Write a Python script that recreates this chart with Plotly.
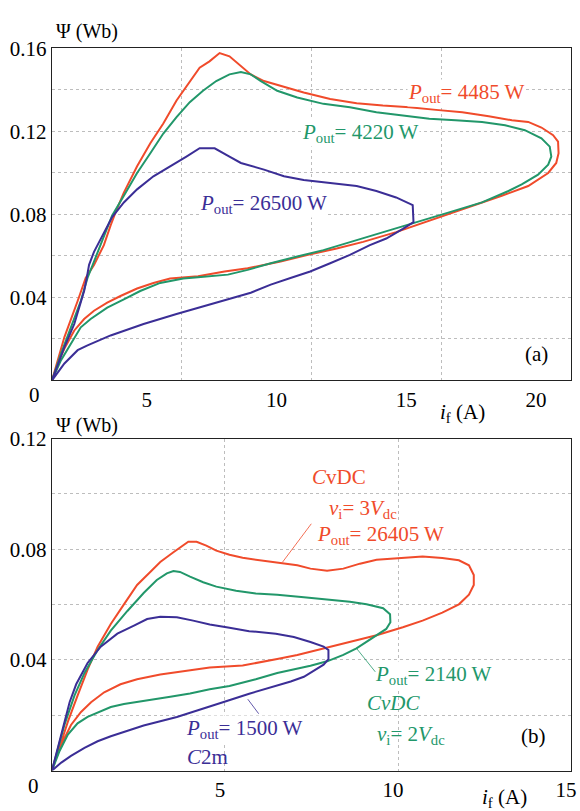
import plotly.graph_objects as go

# ---------------- data : panel (a) ----------------
a_red_x = [0, 0.48, 0.99, 1.30, 1.62, 2.00, 2.26, 2.45, 2.77, 3.28, 3.79, 4.29, 4.80, 5.31, 5.69, 6.07, 6.46, 6.84, 7.28, 7.66,
           8.17, 8.81, 9.70, 10.72, 11.74, 12.75, 13.77, 14.80, 15.81, 16.83, 17.72, 18.35, 18.86, 19.31, 19.50, 19.52, 19.43, 19.12, 18.35, 17.33,
           15.81, 14.54, 13.26, 11.99, 10.97, 9.83, 8.81, 7.54, 6.65, 5.63, 5.06, 4.55, 3.91, 3.28, 2.64, 2.13, 1.62, 1.24, 0.86, 0.48, 0.22, 0]
a_red_y = [0, 0.0209, 0.0383, 0.0494, 0.0557, 0.0652, 0.0747, 0.0810, 0.0905, 0.1032, 0.1143, 0.1238, 0.1349, 0.1443, 0.1507, 0.1538, 0.1578, 0.1562, 0.1515, 0.1475,
           0.1443, 0.1420, 0.1388, 0.1356, 0.1336, 0.1325, 0.1317, 0.1304, 0.1293, 0.1273, 0.1254, 0.1246, 0.1219, 0.1182, 0.1151, 0.1095, 0.1048, 0.1000, 0.0937, 0.0890,
           0.0826, 0.0771, 0.0715, 0.0668, 0.0636, 0.0605, 0.0573, 0.0541, 0.0525, 0.0502, 0.0497, 0.0491, 0.0470, 0.0443, 0.0407, 0.0375, 0.0336, 0.0296, 0.0241, 0.0154, 0.0082, 0]

a_green_x = [0, 0.35, 0.73, 1.11, 1.37, 1.88, 2.32, 2.77, 3.28, 3.79, 4.29, 4.80, 5.31, 5.82, 6.33, 6.84, 7.28, 7.66, 8.05, 8.68,
             9.45, 10.46, 11.48, 12.50, 13.52, 14.54, 15.55, 16.57, 17.46, 18.22, 18.86, 19.18, 19.24, 19.12, 18.73, 18.10, 17.59, 16.57, 15.30, 14.03,
             12.75, 11.48, 10.46, 9.45, 8.43, 7.54, 6.78, 5.63, 5.06, 4.17, 3.40, 2.77, 2.13, 1.49, 1.11, 0.73, 0.35, 0]
a_green_y = [0, 0.0130, 0.0256, 0.0383, 0.0494, 0.0652, 0.0795, 0.0890, 0.1000, 0.1095, 0.1190, 0.1269, 0.1341, 0.1396, 0.1443, 0.1475, 0.1486, 0.1475, 0.1443, 0.1396,
             0.1364, 0.1333, 0.1317, 0.1293, 0.1277, 0.1261, 0.1254, 0.1246, 0.1230, 0.1206, 0.1167, 0.1127, 0.1079, 0.1040, 0.0992, 0.0945, 0.0913, 0.0858, 0.0810, 0.0763,
             0.0715, 0.0668, 0.0628, 0.0597, 0.0565, 0.0533, 0.0510, 0.0497, 0.0491, 0.0470, 0.0431, 0.0391, 0.0351, 0.0296, 0.0256, 0.0177, 0.0098, 0]

a_blue_x = [0, 0.48, 0.86, 1.11, 1.24, 1.34, 1.43, 1.62, 1.94, 2.32, 2.77, 3.28, 3.91, 4.68, 5.18, 5.69, 6.27, 6.84, 7.28, 8.17,
            8.94, 9.70, 10.72, 11.74, 12.50, 13.26, 13.90, 13.93, 13.52, 12.88, 12.25, 11.48, 10.72, 9.95, 9.19, 8.43, 7.66, 6.90, 6.14, 4.80,
            3.53, 2.26, 1.37, 0.99, 0.48, 0]
a_blue_y = [0, 0.0161, 0.0272, 0.0383, 0.0431, 0.0494, 0.0557, 0.0620, 0.0700, 0.0787, 0.0858, 0.0921, 0.0984, 0.1040, 0.1079, 0.1119, 0.1119, 0.1079, 0.1048, 0.1016,
            0.0984, 0.0966, 0.0950, 0.0937, 0.0913, 0.0882, 0.0845, 0.0763, 0.0731, 0.0684, 0.0652, 0.0605, 0.0565, 0.0525, 0.0494, 0.0462, 0.0423, 0.0396, 0.0367, 0.0320,
            0.0272, 0.0217, 0.0169, 0.0146, 0.0082, 0]

# ---------------- data : panel (b) ----------------
b_red_x = [0, 0.22, 0.46, 0.74, 1.03, 1.32, 1.70, 2.08, 2.46, 2.84, 3.13, 3.51, 3.80, 3.94, 4.18, 4.46, 4.75, 5.13, 5.51, 5.99,
           6.51, 7.09, 7.47, 7.95, 8.42, 8.90, 9.38, 10.05, 10.71, 11.28, 11.76, 12.05, 12.19, 12.19, 12.05, 11.76, 11.28, 10.71, 10.14, 9.38,
           8.80, 8.23, 7.66, 7.09, 6.51, 5.51, 4.56, 3.80, 3.13, 2.46, 1.98, 1.51, 1.13, 0.84, 0.55, 0.32, 0.12, 0]
b_red_y = [0, 0.0082, 0.0177, 0.0271, 0.0365, 0.0448, 0.0530, 0.0601, 0.0671, 0.0718, 0.0754, 0.0789, 0.0813, 0.0827, 0.0827, 0.0813, 0.0795, 0.0780, 0.0769, 0.0760,
           0.0752, 0.0742, 0.0730, 0.0722, 0.0730, 0.0748, 0.0762, 0.0769, 0.0774, 0.0768, 0.0760, 0.0742, 0.0707, 0.0671, 0.0636, 0.0601, 0.0571, 0.0542, 0.0518, 0.0489,
           0.0471, 0.0453, 0.0436, 0.0418, 0.0403, 0.0380, 0.0373, 0.0359, 0.0347, 0.0330, 0.0312, 0.0283, 0.0247, 0.0212, 0.0165, 0.0106, 0.0047, 0]

b_green_x = [0, 0.17, 0.36, 0.65, 0.94, 1.32, 1.70, 2.18, 2.65, 3.03, 3.32, 3.51, 3.70, 3.99, 4.37, 4.75, 5.32, 5.89, 6.51, 7.28,
             8.04, 8.61, 9.09, 9.57, 9.77, 9.78, 9.66, 9.38, 9.09, 8.80, 8.42, 7.95, 7.47, 6.90, 6.51, 5.89, 5.13, 4.56, 3.99, 3.42,
             2.65, 2.08, 1.70, 1.41, 1.03, 0.74, 0.46, 0.22, 0]
b_green_y = [0, 0.0082, 0.0165, 0.0271, 0.0353, 0.0436, 0.0506, 0.0577, 0.0642, 0.0689, 0.0713, 0.0721, 0.0718, 0.0701, 0.0681, 0.0665, 0.0650, 0.0640, 0.0636, 0.0627,
             0.0618, 0.0610, 0.0601, 0.0587, 0.0565, 0.0536, 0.0512, 0.0489, 0.0465, 0.0442, 0.0418, 0.0395, 0.0379, 0.0365, 0.0353, 0.0330, 0.0306, 0.0294, 0.0279, 0.0267,
             0.0251, 0.0241, 0.0230, 0.0214, 0.0194, 0.0171, 0.0130, 0.0071, 0]

b_blue_x = [0, 0.12, 0.32, 0.51, 0.70, 1.03, 1.41, 1.89, 2.37, 2.75, 3.13, 3.61, 4.08, 4.56, 5.13, 5.70, 6.47, 6.99, 7.47, 7.85,
            7.99, 7.99, 7.85, 7.56, 7.28, 6.90, 6.09, 5.70, 4.94, 4.18, 3.61, 2.65, 2.18, 1.70, 1.32, 0.94, 0.55, 0.27, 0]
b_blue_y = [0, 0.0059, 0.0153, 0.0247, 0.0312, 0.0389, 0.0448, 0.0495, 0.0524, 0.0548, 0.0556, 0.0554, 0.0542, 0.0528, 0.0516, 0.0504, 0.0495, 0.0483, 0.0465, 0.0448,
            0.0436, 0.0403, 0.0383, 0.0359, 0.0339, 0.0322, 0.0292, 0.0278, 0.0247, 0.0218, 0.0194, 0.0163, 0.0144, 0.0124, 0.0106, 0.0082, 0.0053, 0.0029, 0]

# tick labels
a_xticks = [5, 10, 15, 20]
a_yticks = [0.02, 0.04, 0.06, 0.08, 0.10, 0.12, 0.14, 0.16]
a_yticktext = ["", "0.04", "", "0.08", "", "0.12", "", "0.16"]
b_xticks = [5, 10, 15]
b_yticks = [0.02, 0.04, 0.06, 0.08, 0.10, 0.12]
b_yticktext = ["", "0.04", "", "0.08", "", "0.12"]

# ---------------- styling ----------------
RED = "#F04B2B"
GREEN = "#22976A"
BLUE = "#3B2E96"
FONT = "Liberation Serif"
FS = 21
W, H = 580, 811


def px(x):
    return x / W


def py(y):
    return 1 - y / H


fig = go.Figure()
for xs, ys, c in [(a_red_x, a_red_y, RED), (a_green_x, a_green_y, GREEN), (a_blue_x, a_blue_y, BLUE)]:
    fig.add_trace(go.Scatter(x=xs, y=ys, mode="lines", line=dict(color=c, width=2), xaxis="x", yaxis="y",
                             showlegend=False, hoverinfo="skip"))
for xs, ys, c in [(b_red_x, b_red_y, RED), (b_green_x, b_green_y, GREEN), (b_blue_x, b_blue_y, BLUE)]:
    fig.add_trace(go.Scatter(x=xs, y=ys, mode="lines", line=dict(color=c, width=2), xaxis="x2", yaxis="y2",
                             showlegend=False, hoverinfo="skip"))

grid = dict(showgrid=True, gridcolor="#bdbdbd", griddash="dot", gridwidth=1,
            showline=True, linecolor="#222", linewidth=1.3, mirror=True, ticks="",
            zeroline=False, tickfont=dict(family=FONT, size=FS, color="black"))

fig.update_layout(
    width=W, height=H, autosize=False,
    margin=dict(l=0, r=0, t=0, b=0),
    paper_bgcolor="white", plot_bgcolor="white",
    font=dict(family=FONT, size=FS, color="black"),
    xaxis=dict(domain=[px(52.5), px(577)], range=[0, 20], tickmode="array", tickvals=a_xticks,
               ticklabelshift=-35, anchor="y", **grid),
    yaxis=dict(domain=[py(374), py(37)], range=[0, 0.16], tickmode="array", tickvals=a_yticks,
               ticktext=a_yticktext, anchor="x", **grid),
    xaxis2=dict(domain=[px(52.5), px(577)], range=[0, 15], tickmode="array", tickvals=b_xticks,
                ticklabelshift=-5, ticklabeloverflow="allow", anchor="y2", **grid),
    yaxis2=dict(domain=[py(770), py(433)], range=[0, 0.12], tickmode="array", tickvals=b_yticks,
                ticktext=b_yticktext, anchor="x2", **grid),
)

ann = []


def label(text, x, y, color="black", bg=None, xanchor="center", size=FS):
    d = dict(text=text, x=px(x), y=py(y), xref="paper", yref="paper", showarrow=False,
             font=dict(family=FONT, size=size, color=color), xanchor=xanchor, yanchor="middle")
    if bg:
        d.update(bgcolor=bg, borderpad=0)
    ann.append(d)


P = "<i>P</i><sub>out</sub>"
# axis titles and corner zeros
label("Ψ (Wb)", 88, 20, size=20)
label("Ψ (Wb)", 88, 420, size=20)
label("0", 35, 389)
label("0", 34, 786)
label("<i>i</i><sub>f</sub> (A)", 467, 407)
label("<i>i</i><sub>f</sub> (A)", 510, 798)
label("(a)", 542, 347)
label("(b)", 539, 735)

# panel (a) labels
label(P + "= 4485 W", 471, 82, RED, "white")
label(P + "= 4220 W", 364, 123, GREEN, "white")
label(P + "= 26500 W", 266, 195, BLUE, "white")

# panel (b) labels
label("<i>C</i>vDC", 343, 472, RED)
label("<i>v</i><sub>i</sub>= 3<i>V</i><sub>dc</sub>", 367, 504, RED)
label(P + "= 26405 W", 384, 531, RED, "white")
label(P + "= 2140 W", 438, 673, GREEN, "white")
label("<i>CvDC</i>", 398, 701, GREEN)
label("<i>v</i><sub>i</sub>= 2<i>V</i><sub>dc</sub>", 415, 734, GREEN)
label(P + "= 1500 W", 187, 728, BLUE, "white", xanchor="left")
label("<i>C</i>2m", 187, 756, BLUE, xanchor="left")

# leader lines (arrows without heads pointing at the curves)
for (x, y, ax, ay, c) in [(6.66, 0.0753, 30, -40, RED),
                          (8.80, 0.0442, 20, 25, GREEN),
                          (5.66, 0.0258, 12, 16, BLUE)]:
    ann.append(dict(x=x, y=y, xref="x2", yref="y2", text="", showarrow=True, arrowhead=0,
                    arrowwidth=0.8, arrowcolor=c, ax=ax, ay=ay, standoff=0))

fig.update_layout(annotations=ann)

fig.write_html("out.html", config={"displayModeBar": False},
               post_script="document.body.style.margin='0px';")
